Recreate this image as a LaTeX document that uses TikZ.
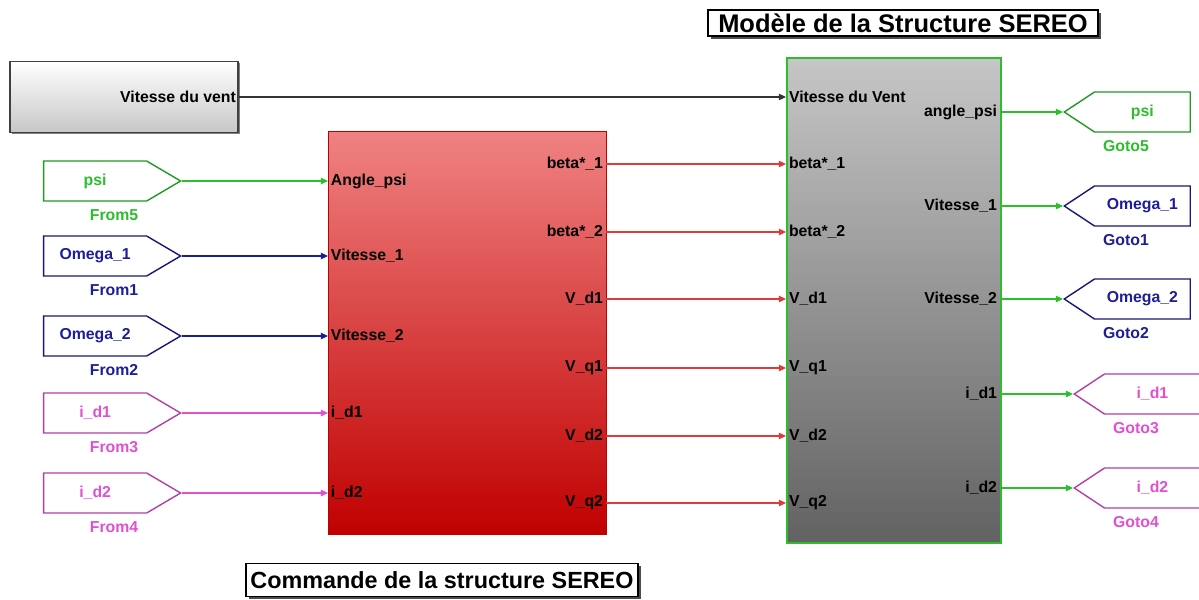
\documentclass[tikz,border=0pt]{standalone}
\usepackage{fontspec}
\setmainfont{Liberation Sans}
\usetikzlibrary{arrows.meta,positioning,shapes.symbols,shadows}
\definecolor{sgreen}{HTML}{2DBE2D}
\definecolor{sblue}{HTML}{1E1E96}
\definecolor{smag}{HTML}{E050D0}
\definecolor{sred}{HTML}{E03A3A}
\definecolor{ctop}{HTML}{F08282}
\definecolor{cbot}{HTML}{C00000}
\definecolor{mtop}{HTML}{C6C6C6}
\definecolor{mbot}{HTML}{626262}

\begin{document}
\begin{tikzpicture}[x=0.02cm, y=-0.02cm,
    every node/.style={font=\fontsize{9}{10}\selectfont\bfseries},
    wire/.style={-{Triangle[length=4pt,width=3.6pt]}, line width=0.7pt},
    frombox/.style={signal, signal to=east, signal pointer angle=61, draw=#1!80!black, text=#1, fill=white, line width=0.8pt, minimum height=0.8cm, minimum width=2.74cm, inner sep=0pt},
    gotobox/.style={signal, signal to=west, signal pointer angle=67, draw=#1!80!black, text=#1, fill=white, line width=0.8pt, minimum height=0.8cm, minimum width=2.52cm, inner sep=0pt},
    blklbl/.style={text=#1, inner sep=1pt},
    port/.style={inner sep=1.5pt, text=black},
    caption/.style={draw, line width=0.8pt, fill=white, inner sep=2pt, drop shadow={shadow xshift=1.5pt, shadow yshift=-1.5pt, fill=black!70, opacity=1}}
]
    % Page
    \fill[white] (0,0) rectangle (1199,599);
    \useasboundingbox (0,0) rectangle (1199,599);

    % Main blocks
    \node[draw=black!75, line width=1pt, top color=white, bottom color=black!22, drop shadow={shadow xshift=1pt, shadow yshift=-1pt, fill=black!50, opacity=1}, minimum width=4.56cm, minimum height=1.42cm] (src) at (124,97) {};
    \node[port, anchor=east] (srct) at (src.east) {Vitesse du vent};
    \node[draw=red!75!black, top color=ctop, bottom color=cbot, minimum width=5.56cm, minimum height=8.06cm, anchor=north west] (ctrl) at (328,131) {};
    \node[draw=sgreen, line width=1pt, top color=mtop, bottom color=mbot, minimum width=4.28cm, minimum height=9.7cm, anchor=north west] (mod) at (786,57) {};

    % Captions
    \node[caption, font=\fontsize{14.5}{16}\selectfont\bfseries, minimum width=7.8cm, minimum height=0.52cm] (ttl) at (903,23) {Modèle de la Structure SEREO};
    \node[caption, font=\fontsize{13.3}{15}\selectfont\bfseries, minimum width=7.84cm, minimum height=0.66cm] (cap) at (442,580) {Commande de la structure SEREO};

    % Wind speed
    \node[port, anchor=west] (mi0) at (786,97) {Vitesse du Vent};
    \draw[wire, black!80] (src.east) -- (mi0.west);

    % From blocks -> control inputs
    \foreach \y/\txt/\lbl/\col/\pin [count=\i] in {181/psi/From5/sgreen/Angle\_psi, 256/Omega\_1/From1/sblue/Vitesse\_1, 336/Omega\_2/From2/sblue/Vitesse\_2, 413/i\_d1/From3/smag/i\_d1, 493/i\_d2/From4/smag/i\_d2} {
        \node[frombox=\col, anchor=east] (f\i) at (182,\y) {\txt};
        \node[blklbl=\col] (fl\i) at ({114},{\y+34}) {\lbl};
        \node[port, anchor=west] (ci\i) at (328,\y) {\pin};
        \draw[wire, \col] (f\i.east) -- (ci\i.west);
    }

    % Control outputs -> model inputs
    \foreach \y/\txt [count=\i] in {164/beta*\_1, 232/beta*\_2, 299/V\_d1, 368/V\_q1, 436/V\_d2, 503/V\_q2} {
        \node[port, anchor=east] (co\i) at (606,\y) {\txt};
        \node[port, anchor=west] (mi\i) at (786,\y) {\txt};
        \draw[wire, sred] (co\i.east) -- (mi\i.west);
    }

    % Model outputs -> Goto blocks
    \foreach \y/\txt/\tag/\lbl/\col/\tx [count=\i] in {112/angle\_psi/psi/Goto5/sgreen/1063, 206/Vitesse\_1/Omega\_1/Goto1/sblue/1063, 299/Vitesse\_2/Omega\_2/Goto2/sblue/1063, 394/i\_d1/i\_d1/Goto3/smag/1073, 488/i\_d2/i\_d2/Goto4/smag/1073} {
        \node[port, anchor=east] (mo\i) at (1000,\y) {\txt};
        \node[gotobox=\col, anchor=west] (g\i) at (\tx,\y) {\tag};
        \node[blklbl=\col] (gl\i) at ({\tx+63},{\y+34}) {\lbl};
        \draw[wire, sgreen] (mo\i.east) -- (g\i.west);
    }
\end{tikzpicture}
\end{document}
